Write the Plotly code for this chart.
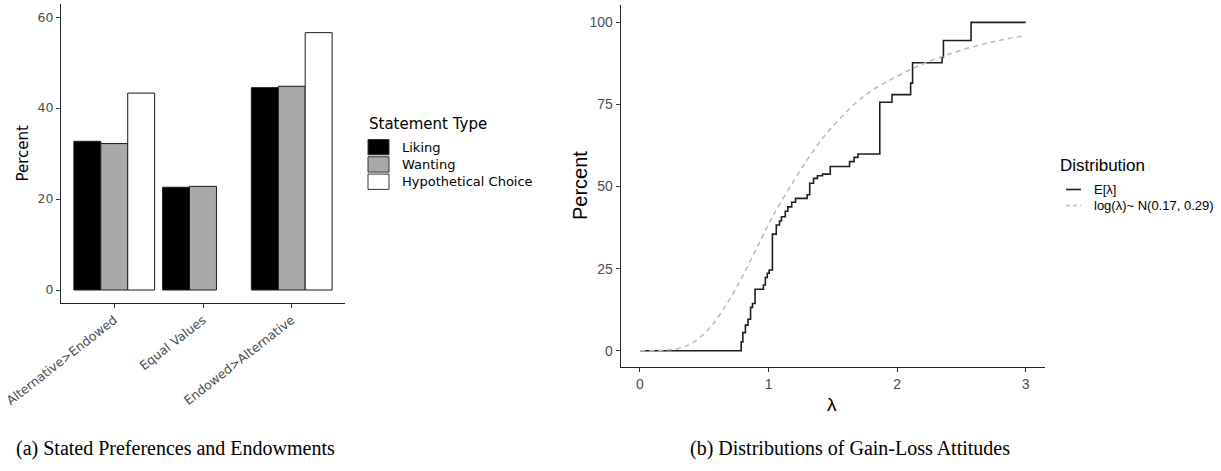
import plotly.graph_objects as go

W, H = 1221, 471

# ---- Panel (a): statements by valuation comparison ----
categories = ["Alternative>Endowed", "Equal Values", "Endowed>Alternative"]
liking = [32.7, 22.6, 44.5]
wanting = [32.2, 22.8, 44.8]
hypothetical = [43.3, None, 56.6]
statement_types = ["Liking", "Wanting", "Hypothetical Choice"]
statement_fills = ["#000000", "#a9a9a9", "#ffffff"]
left_yticks = [0, 20, 40, 60]

# ---- Panel (b): empirical distribution of E[lambda] ----
lam_steps = [0.0, 0.787, 0.80, 0.82, 0.84, 0.86, 0.875, 0.895, 0.96, 0.975, 0.99,
             1.005, 1.03, 1.06, 1.085, 1.10, 1.13, 1.15, 1.18, 1.21, 1.30, 1.32,
             1.35, 1.38, 1.42, 1.48, 1.63, 1.665, 1.695, 1.865, 1.96, 2.105,
             2.12, 2.35, 2.36, 2.575, 3.0]
pct_steps = [0.0, 2.7, 5.5, 7.8, 9.6, 13.2, 14.4, 18.7, 20.0, 22.3, 23.6,
             24.6, 35.5, 38.3, 39.5, 40.8, 42.5, 43.8, 45.2, 46.4, 47.5, 51.0,
             52.5, 53.3, 53.8, 56.1, 57.6, 58.9, 59.9, 75.7, 78.0, 81.5,
             87.7, 89.5, 94.5, 100.0, 100.0]

# ---- Panel (b): log-normal reference curve ----
lam_ref = [0.0, 0.15, 0.30, 0.42, 0.55, 0.68, 0.81, 0.94, 1.04, 1.20, 1.35,
           1.48, 1.74, 2.00, 2.26, 2.52, 2.78, 3.00]
pct_ref = [0.0, 0.1, 0.7, 2.7, 7.3, 14.6, 23.6, 33.8, 41.5, 52.0, 61.0,
           67.5, 77.5, 83.6, 88.3, 91.8, 94.4, 96.0]
right_xticks = [0, 1, 2, 3]
right_yticks = [0, 25, 50, 75, 100]
dist_names = ["E[λ]", "log(λ)~ N(0.17, 0.29)"]

WIDE = "DejaVu Sans, Liberation Sans, sans-serif"
NARROW = "Liberation Sans Narrow, Arial Narrow, Liberation Sans, sans-serif"
SERIF = "Liberation Serif, Times New Roman, serif"
TICK_GREY = "#4d4d4d"
AXIS_COL = "#222222"


def xp(px):
    return px / W


def yp(py):
    return 1 - py / H


fig = go.Figure()

for name, vals, fill in zip(statement_types, [liking, wanting, hypothetical], statement_fills):
    fig.add_trace(go.Bar(
        x=categories, y=vals, name=name,
        marker=dict(color=fill, line=dict(color="#1a1a1a", width=1)),
        xaxis="x", yaxis="y", showlegend=False,
    ))

fig.add_trace(go.Scatter(
    x=lam_steps, y=pct_steps, mode="lines", name=dist_names[0],
    line=dict(color="#1e1e1e", width=1.6, shape="hv"),
    xaxis="x2", yaxis="y2", showlegend=False,
))
fig.add_trace(go.Scatter(
    x=lam_ref, y=pct_ref, mode="lines", name=dist_names[1],
    line=dict(color="#bcbcbc", width=1.6, shape="spline", dash="5px,4px"),
    xaxis="x2", yaxis="y2", showlegend=False,
))

axis_common = dict(
    showline=True, linecolor=AXIS_COL, linewidth=1,
    ticks="outside", ticklen=4, tickcolor="#333333", tickwidth=1,
    showgrid=False, zeroline=False, automargin=False,
)

fig.update_layout(
    width=W, height=H,
    margin=dict(l=0, r=0, t=0, b=0),
    paper_bgcolor="white", plot_bgcolor="white",
    barmode="group", bargap=0.09, bargroupgap=0,
    xaxis=dict(
        domain=[xp(61), xp(345)], anchor="y", range=[-0.6, 2.6],
        tickangle=-38, tickfont=dict(family=WIDE, size=12.5, color=TICK_GREY),
        **axis_common,
    ),
    yaxis=dict(
        domain=[yp(303), yp(4)], anchor="x", range=[-2.86, 62.9],
        tickvals=left_yticks,
        tickfont=dict(family=WIDE, size=12.5, color=TICK_GREY),
        **axis_common,
    ),
    xaxis2=dict(
        domain=[xp(620.7), xp(1045)], anchor="y2", range=[-0.15, 3.15],
        tickvals=right_xticks,
        tickfont=dict(family=NARROW, size=14, color=TICK_GREY),
        **axis_common,
    ),
    yaxis2=dict(
        domain=[yp(367.3), yp(5)], anchor="x2", range=[-5.05, 105.3],
        tickvals=right_yticks,
        tickfont=dict(family=NARROW, size=14, color=TICK_GREY),
        **axis_common,
    ),
)

ann = []
# axis titles
ann.append(dict(x=xp(22), y=yp(153.5), text="Percent", textangle=-90,
                font=dict(family=WIDE, size=15, color="black")))
ann.append(dict(x=xp(580), y=yp(186), text="Percent", textangle=-90,
                font=dict(family=NARROW, size=20, color="black")))
ann.append(dict(x=xp(832.5), y=yp(404), text="λ",
                font=dict(family=NARROW, size=19, color="black")))

# legend of panel (a)
ann.append(dict(x=xp(367), y=yp(124), text="Statement Type", xanchor="left",
                font=dict(family=WIDE, size=15, color="black")))
shapes = []
key_top = 138.5
key_h = 17.3
for i, (name, fill) in enumerate(zip(statement_types, statement_fills)):
    y0 = key_top + i * key_h
    shapes.append(dict(type="rect", xref="paper", yref="paper",
                       x0=xp(368), x1=xp(389), y0=yp(y0 + key_h - 1), y1=yp(y0 + 1),
                       fillcolor=fill, line=dict(color="#333333", width=1)))
    ann.append(dict(x=xp(400), y=yp(y0 + key_h / 2), text=name, xanchor="left",
                    font=dict(family=WIDE, size=13, color="black")))

# legend of panel (b)
ann.append(dict(x=xp(1058), y=yp(166), text="Distribution", xanchor="left",
                font=dict(family=NARROW, size=17, color="black")))
leg_styles = [dict(color="#1e1e1e", width=1.6), dict(color="#bcbcbc", width=1.6, dash="4px,3px")]
for i, (name, st) in enumerate(zip(dist_names, leg_styles)):
    yy = 189.5 + i * 16
    shapes.append(dict(type="line", xref="paper", yref="paper",
                       x0=xp(1066), x1=xp(1081), y0=yp(yy), y1=yp(yy), line=st))
    ann.append(dict(x=xp(1092), y=yp(yy), text=name, xanchor="left",
                    font=dict(family=NARROW, size=13, color="black")))

# captions
ann.append(dict(x=xp(175), y=yp(448), text="(a) Stated Preferences and Endowments",
                font=dict(family=SERIF, size=20, color="black")))
ann.append(dict(x=xp(850), y=yp(448), text="(b) Distributions of Gain-Loss Attitudes",
                font=dict(family=SERIF, size=20, color="black")))

for a in ann:
    a.setdefault("xref", "paper")
    a.setdefault("yref", "paper")
    a.setdefault("showarrow", False)
    a.setdefault("xanchor", "center")
    a.setdefault("yanchor", "middle")

fig.update_layout(annotations=ann, shapes=shapes)

fig.write_html("out.html")
